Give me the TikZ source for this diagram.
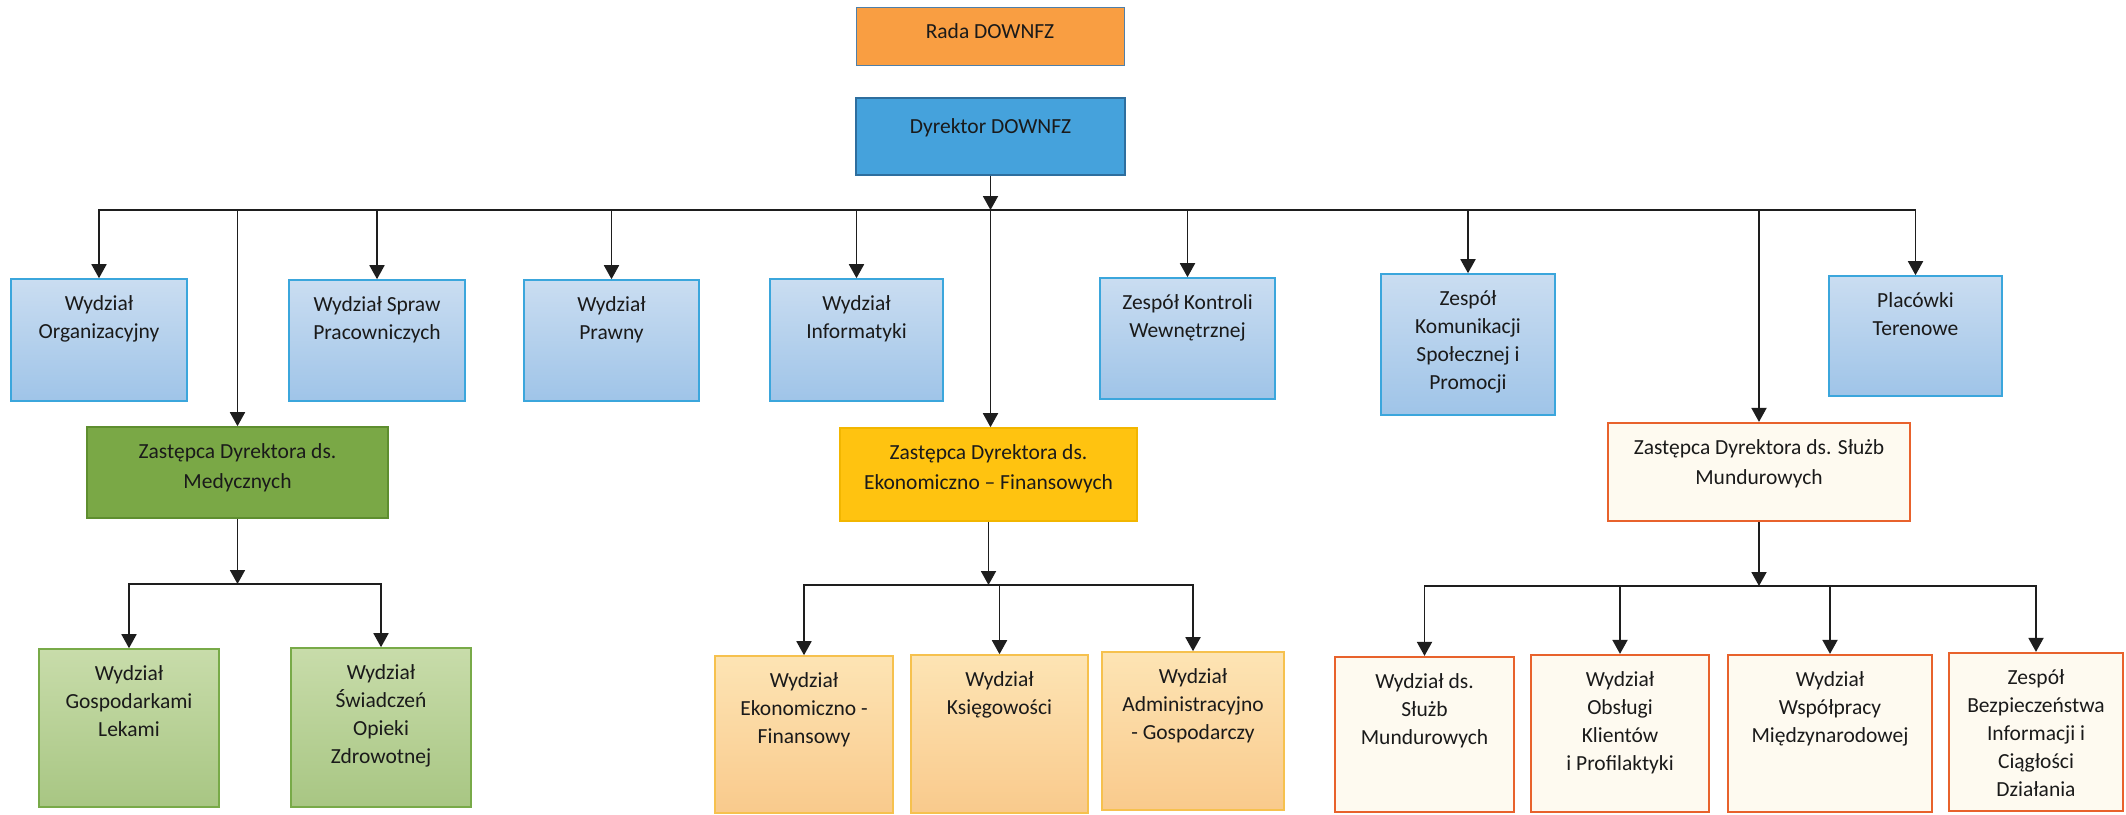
\documentclass[tikz,border=0pt]{standalone}
\usepackage{fontspec}
\setmainfont{Carlito}
\usetikzlibrary{arrows.meta,fit}
\definecolor{lineclr}{HTML}{1E1E1E}
\definecolor{txtclr}{HTML}{1A1A1A}
\definecolor{bluebd}{HTML}{3BA6DC}
\definecolor{bluetop}{HTML}{CADDF1}
\definecolor{bluebot}{HTML}{9FC4E8}
\definecolor{radafill}{HTML}{F99E42}
\definecolor{radabd}{HTML}{4F7FA8}
\definecolor{dyrfill}{HTML}{45A2DC}
\definecolor{dyrbd}{HTML}{2E6E9E}
\definecolor{medfill}{HTML}{7AA846}
\definecolor{medbd}{HTML}{5E8E2F}
\definecolor{greentop}{HTML}{C8DCAA}
\definecolor{greenbot}{HTML}{A8C683}
\definecolor{greenbd}{HTML}{78AA48}
\definecolor{ekonfill}{HTML}{FFC310}
\definecolor{ekonbd}{HTML}{F2B600}
\definecolor{orgtop}{HTML}{FDE4B4}
\definecolor{orgbot}{HTML}{F9CA8C}
\definecolor{orgbd}{HTML}{F6C14E}
\definecolor{mundfill}{HTML}{FEFAF0}
\definecolor{mundbd}{HTML}{E8622C}
\tikzset{
  bx/.style={inner sep=0pt, line width=1.6pt},
  bluebox/.style={bx, draw=bluebd, top color=bluetop, bottom color=bluebot},
  radabox/.style={bx, line width=1pt, draw=radabd, fill=radafill},
  dyrbox/.style={bx, line width=1.4pt, draw=dyrbd, fill=dyrfill},
  medbox/.style={bx, draw=medbd, fill=medfill},
  greenbox/.style={bx, draw=greenbd, top color=greentop, bottom color=greenbot},
  ekonbox/.style={bx, draw=ekonbd, fill=ekonfill},
  lorgbox/.style={bx, draw=orgbd, top color=orgtop, bottom color=orgbot},
  mundbox/.style={bx, line width=2.2pt, draw=mundbd, fill=mundfill},
  txt/.style={align=center, inner sep=0pt, anchor=north, text=txtclr,
    font=\fontsize{21.5}{28}\selectfont},
  txtd/.style={txt, font=\fontsize{21.5}{30}\selectfont},
  conn/.style={line width=1.8pt, draw=lineclr, line cap=rect},
  arr/.style={line width=1.8pt, draw=lineclr, -{Triangle[width=15pt,length=14pt]}},
}
\newcommand\orgchartbox[8]{%
  \node[#1, fit={(#3,#4) (#5,#6)}] (#2) {};
  \node[#8] (#2-t) at ([yshift=-17pt]#2.north) {#7};
}
\begin{document}
\begin{tikzpicture}[x=1pt,y=-1pt]
\useasboundingbox (0,0) rectangle (2126,814);
\fill[white] (0,0) rectangle (2126,814);

\orgchartbox{radabox}{rada}{856}{7}{1124}{65}{Rada DOWNFZ}{txt}
\orgchartbox{dyrbox}{dyr}{856}{98}{1125}{175}{Dyrektor DOWNFZ}{txt, yshift=-4pt}

\orgchartbox{bluebox}{org}{11}{279}{187}{401}{Wydział\\Organizacyjny}{txt}
\orgchartbox{bluebox}{spraw}{289}{280}{465}{401}{Wydział Spraw\\Pracowniczych}{txt}
\orgchartbox{bluebox}{prawny}{524}{280}{699}{401}{Wydział\\Prawny}{txt}
\orgchartbox{bluebox}{inf}{770}{279}{943}{401}{Wydział\\Informatyki}{txt}
\orgchartbox{bluebox}{kontr}{1100}{278}{1275}{399}{Zespół Kontroli\\Wewnętrznej}{txt}
\orgchartbox{bluebox}{komun}{1381}{274}{1555}{415}{Zespół\\Komunikacji\\Społecznej i\\Promocji}{txt}
\orgchartbox{bluebox}{plac}{1829}{276}{2002}{396}{Placówki\\Terenowe}{txt}

\orgchartbox{medbox}{med}{87}{427}{388}{518}{Zastępca Dyrektora ds.\\Medycznych}{txtd}
\orgchartbox{ekonbox}{ekon}{840}{428}{1137}{521}{Zastępca Dyrektora ds.\\Ekonomiczno – Finansowych}{txtd}
\orgchartbox{mundbox}{mund}{1608}{423}{1910}{521}{Zastępca Dyrektora ds. Służb\\Mundurowych}{txtd}

\orgchartbox{greenbox}{gosp}{39}{649}{219}{807}{Wydział\\Gospodarkami\\Lekami}{txt}
\orgchartbox{greenbox}{swiad}{291}{648}{471}{807}{Wydział\\Świadczeń\\Opieki\\Zdrowotnej}{txt}

\orgchartbox{lorgbox}{ekfin}{715}{656}{893}{813}{Wydział\\Ekonomiczno -\\Finansowy}{txt}
\orgchartbox{lorgbox}{ksieg}{911}{655}{1088}{813}{Wydział\\Księgowości}{txt}
\orgchartbox{lorgbox}{admin}{1102}{652}{1284}{810}{Wydział\\Administracyjno\\- Gospodarczy}{txt}

\orgchartbox{mundbox}{sluzb}{1335}{657}{1514}{812}{Wydział ds.\\Służb\\Mundurowych}{txt}
\orgchartbox{mundbox}{obsl}{1531}{655}{1709}{812}{Wydział\\Obsługi\\Klientów\\i Profilaktyki}{txt}
\orgchartbox{mundbox}{wspol}{1728}{655}{1932}{812}{Wydział\\Współpracy\\Międzynarodowej}{txt}
\orgchartbox{mundbox}{bezp}{1949}{653}{2123}{811}{Zespół\\Bezpieczeństwa\\Informacji i\\Ciągłości\\Działania}{txt}

% main bus
\coordinate (bus) at (0,210);
\draw[conn] (org.north |- bus) -- (plac.north |- bus);
\draw[arr] (dyr.south) -- (dyr.south |- bus);
\foreach \n in {org,spraw,prawny,inf,kontr,komun,plac,med,mund}
  \draw[arr] (\n.north |- bus) -- (\n.north);
\draw[arr] (dyr.south |- bus) -- (dyr.south |- ekon.north);

% medical bus
\coordinate (mbus) at (0,584);
\draw[arr] (med.south) -- (med.south |- mbus);
\draw[conn] (gosp.north |- mbus) -- (swiad.north |- mbus);
\foreach \n in {gosp,swiad}
  \draw[arr] (\n.north |- mbus) -- (\n.north);

% economic bus
\coordinate (ebus) at (0,585);
\draw[arr] (ekon.south) -- (ekon.south |- ebus);
\draw[conn] (ekfin.north |- ebus) -- (admin.north |- ebus);
\foreach \n in {ekfin,ksieg,admin}
  \draw[arr] (\n.north |- ebus) -- (\n.north);

% uniformed services bus
\coordinate (ubus) at (0,586);
\draw[arr] (mund.south) -- (mund.south |- ubus);
\draw[conn] (sluzb.north |- ubus) -- (bezp.north |- ubus);
\foreach \n in {sluzb,obsl,wspol,bezp}
  \draw[arr] (\n.north |- ubus) -- (\n.north);
\end{tikzpicture}
\end{document}
